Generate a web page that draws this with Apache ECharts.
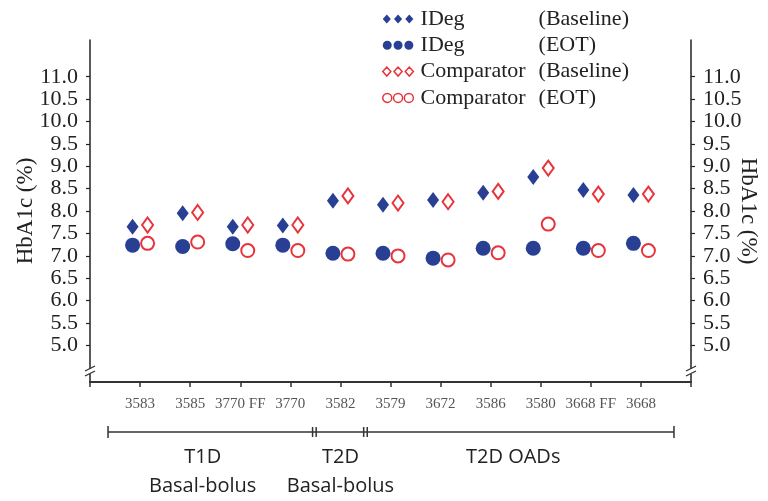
<!DOCTYPE html>
<html><head><meta charset="utf-8">
<script src="https://cdn.jsdelivr.net/npm/echarts@6/dist/echarts.min.js"></script>
<style>html,body{margin:0;padding:0;background:#fff}#c{width:768px;height:501px}</style>
</head><body><div id="c"></div>
<script>
const categories = ['3583','3585','3770 FF','3770','3582','3579','3672','3586','3580','3668 FF','3668'];
const idegBaseline = [7.65,7.95,7.65,7.68,8.23,8.14,8.25,8.41,8.76,8.47,8.36];
const idegEOT      = [7.24,7.21,7.27,7.24,7.06,7.06,6.95,7.17,7.17,7.17,7.28];
const compBaseline = [7.69,7.97,7.69,7.69,8.34,8.18,8.21,8.44,8.96,8.38,8.38];
const compEOT      = [7.28,7.31,7.12,7.12,7.04,7.00,6.91,7.07,7.71,7.12,7.12];
const yTicks = [5.0,5.5,6.0,6.5,7.0,7.5,8.0,8.5,9.0,9.5,10.0,10.5,11.0];
const seriesNames = ['IDeg (Baseline)','IDeg (EOT)','Comparator (Baseline)','Comparator (EOT)'];
const groupLabels = ['T1D\nBasal-bolus','T2D\nBasal-bolus','T2D OADs'];

const BLUE = '#283f94', RED = '#e8333b';
const SERIF = '"Liberation Serif","Times New Roman",serif';
const pad = a => ['-', ...a, '-'];
const xCats = ['', ...categories, ''];

const diamonds = 'path://M0,5L4.5,0L9,5L4.5,10Z M12.5,5L17,0L21.5,5L17,10Z M25,5L29.5,0L34,5L29.5,10Z';
const circles = 'path://M0,5a5,5 0 1,0 10,0a5,5 0 1,0 -10,0Z M12,5a5,5 0 1,0 10,0a5,5 0 1,0 -10,0Z M24,5a5,5 0 1,0 10,0a5,5 0 1,0 -10,0Z';

const chart = echarts.init(document.getElementById('c'));
const yAxisCommon = {
  type: 'value', min: 4.185, max: 11.82,
  splitLine: {show: false},
  axisLine: {show: true, lineStyle: {color: '#222', width: 1.5}},
  axisTick: {show: true, length: 4, customValues: yTicks, lineStyle: {color: '#222', width: 1.2}},
  axisLabel: {customValues: yTicks, formatter: v => v.toFixed(1), fontFamily: SERIF, fontSize: 22, color: '#222', margin: 12},
  name: 'HbA1c (%)', nameLocation: 'middle', nameMoveOverlap: false,
  nameTextStyle: {fontFamily: SERIF, fontSize: 23, color: '#222'}
};
chart.setOption({
  animation: false,
  backgroundColor: '#fff',
  grid: {left: 90, right: 77, top: 40, bottom: 119, containLabel: false, outerBoundsMode: 'none'},
  legend: {
    orient: 'vertical', left: 377, top: 3, itemWidth: 35, itemHeight: 9, itemGap: 4.3,
    data: [
      {name: seriesNames[0], icon: diamonds, itemStyle: {color: BLUE}},
      {name: seriesNames[1], icon: circles, itemStyle: {color: BLUE}},
      {name: seriesNames[2], icon: diamonds, itemStyle: {color: '#fff', borderColor: RED, borderWidth: 1.5}},
      {name: seriesNames[3], icon: circles, itemStyle: {color: '#fff', borderColor: RED, borderWidth: 1.5}}
    ],
    formatter: n => { const i = n.indexOf(' ('); return '{a|' + n.slice(0, i) + '}{b|' + n.slice(i + 1) + '}'; },
    textStyle: {fontFamily: SERIF, fontSize: 22, color: '#222', lineHeight: 22,
      rich: {a: {fontFamily: SERIF, fontSize: 22, color: '#222', width: 118}, b: {fontFamily: SERIF, fontSize: 22, color: '#222'}}}
  },
  xAxis: {
    type: 'category', data: xCats, boundaryGap: false,
    axisLine: {lineStyle: {color: '#333', width: 2}},
    axisTick: {length: 5, lineStyle: {color: '#333', width: 1.5}},
    axisLabel: {fontFamily: SERIF, fontSize: 15, color: '#555', margin: 15, interval: 0}
  },
  yAxis: [
    Object.assign({}, yAxisCommon, {position: 'left', nameGap: 53, nameRotate: 90}),
    Object.assign({}, yAxisCommon, {position: 'right', nameGap: 46, nameRotate: -90})
  ],
  series: [
    {name: seriesNames[0], type: 'scatter', data: pad(idegBaseline), symbol: 'diamond', symbolSize: [12, 16], symbolOffset: [-7.5, 0],
     itemStyle: {color: BLUE, opacity: 1}},
    {name: seriesNames[1], type: 'scatter', data: pad(idegEOT), symbol: 'circle', symbolSize: 15, symbolOffset: [-7.5, 0],
     itemStyle: {color: BLUE, opacity: 1}},
    {name: seriesNames[2], type: 'scatter', data: pad(compBaseline), symbol: 'diamond', symbolSize: [11, 15], symbolOffset: [7.5, 0],
     itemStyle: {color: '#fff', borderColor: RED, borderWidth: 2, opacity: 1}},
    {name: seriesNames[3], type: 'scatter', data: pad(compEOT), symbol: 'circle', symbolSize: 13, symbolOffset: [7.5, 0],
     itemStyle: {color: '#fff', borderColor: RED, borderWidth: 2, opacity: 1}}
  ]
});

// annotations: group brackets and labels, positioned from the category axis
const p0 = chart.convertToPixel({xAxisIndex: 0}, 1);
const p1 = chart.convertToPixel({xAxisIndex: 0}, 2);
const step = p1 - p0;
const X = i => p0 + i * step;
const axisY = chart.convertToPixel({yAxisIndex: 0}, 4.185);
const leftX = chart.convertToPixel({xAxisIndex: 0}, 0);
const rightX = chart.convertToPixel({xAxisIndex: 0}, xCats.length - 1);
const by = 432;
const LS = {stroke: '#333', lineWidth: 1.5};
const line = (x1, y1, x2, y2, s) => ({type: 'line', shape: {x1, y1, x2, y2}, style: Object.assign({}, LS, s || {}), z: 10});
const g = [];
const cuts = [-0.64, 3.48, 4.5, 10.66];
g.push(line(X(cuts[0]), by, X(cuts[3]), by));
g.push(line(X(cuts[0]), by - 6, X(cuts[0]), by + 6));
g.push(line(X(cuts[3]), by - 6, X(cuts[3]), by + 6));
[cuts[1], cuts[2]].forEach(c => {
  g.push(line(X(c) - 1.8, by - 5, X(c) - 1.8, by + 5));
  g.push(line(X(c) + 1.8, by - 5, X(c) + 1.8, by + 5));
});
const centers = [1.25, 4.0, 7.45];
groupLabels.forEach((t, k) => {
  g.push({type: 'text', x: X(centers[k]), y: 443, z: 10,
    style: {text: t, textAlign: 'center', textVerticalAlign: 'top', font: '20px "Open Sans", sans-serif', fill: '#222', lineHeight: 29}});
});
// axis break marks
[leftX, rightX].forEach(ax => {
  const yb = axisY - 10;
  g.push({type: 'rect', shape: {x: ax - 2, y: yb - 3, width: 4, height: 5}, style: {fill: '#fff'}, z: 10});
  g.push(line(ax - 5, yb - 1, ax + 5, yb - 6, {lineWidth: 1.3}));
  g.push(line(ax - 5, yb + 4, ax + 5, yb - 1, {lineWidth: 1.3}));
});
chart.setOption({graphic: g});
</script>
</body></html>
